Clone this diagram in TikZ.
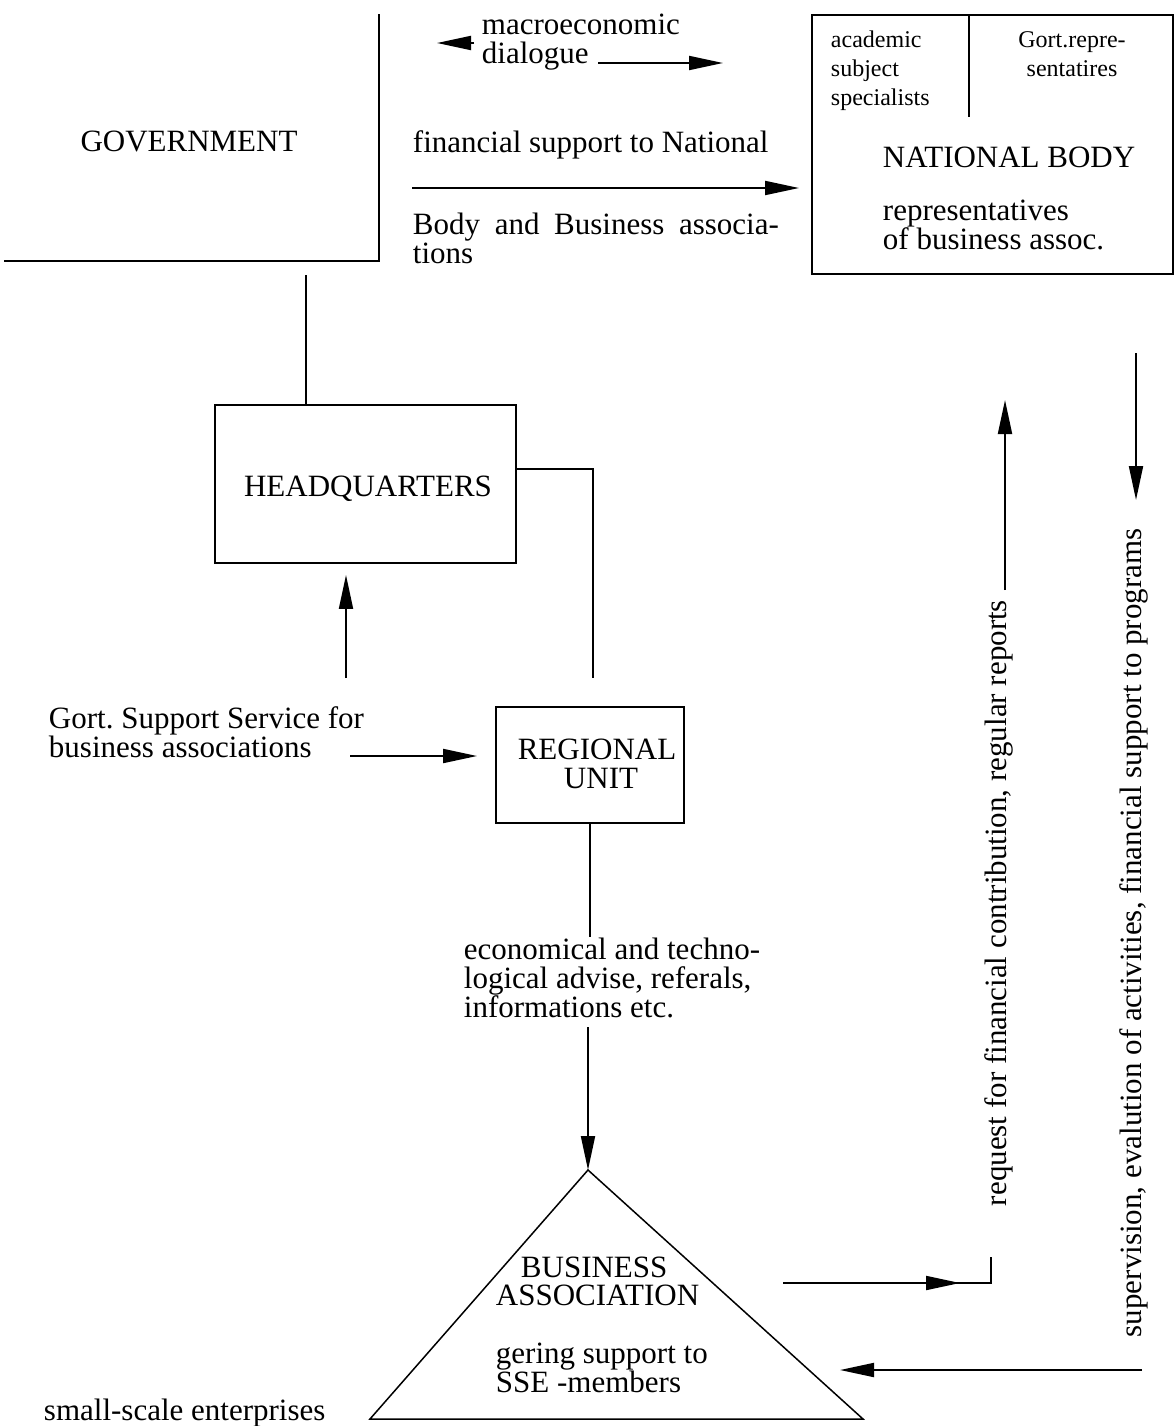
\documentclass[tikz,border=0pt]{standalone}
\usepackage{fontspec}
\setmainfont{Liberation Serif}
\usetikzlibrary{arrows.meta}
\frenchspacing
\begin{document}
\begin{tikzpicture}[x=1pt,y=-1pt,line width=1.9pt,
  tip/.style={-{Triangle[length=34pt,width=14pt]}},
  lbl/.style={font=\fontsize{31}{29}\selectfont,inner sep=0pt,align=left},
  sm/.style={font=\fontsize{24}{29}\selectfont,inner sep=0pt,align=left},
  boxed/.style={draw,inner sep=0pt}]
\useasboundingbox (0,0) rectangle (1175,1426);

% GOVERNMENT (open box: bottom and right sides only)
\node[inner sep=0pt,minimum width=373pt,minimum height=245pt] (govbox) at (191.5,137.5) {};
\draw (govbox.south west) -- (govbox.south east) -- (govbox.north east);
\node[lbl] (govt) at (189,141) {GOVERNMENT};

% top labels and arrows
\node[lbl,anchor=base west] (macro) at (481,64) {macroeconomic\\dialogue};
\coordinate (mlA) at (474,43);
\coordinate (mlB) at (437,43);
\draw[tip] (mlA) -- (mlB);
\coordinate (mrA) at (598,63);
\coordinate (mrB) at (723,63);
\draw[tip] (mrA) -- (mrB);

\node[lbl,anchor=base west] (fin) at (412,152) {financial support to National};
\node[lbl,anchor=base west] (body) at (412,263) {\hbox to 366pt{Body\hfill and\hfill Business\hfill associa-}\\tions};

% NATIONAL BODY
\node[boxed,minimum width=361pt,minimum height=259pt] (nb) at (992.5,144.5) {};
\coordinate (finA) at (412,188);
\draw[tip,shorten >=12pt] (finA) -- (finA -| nb.west);
\coordinate (divtop) at (969,15);
\coordinate (divbot) at (969,117);
\draw (divtop) -- (divbot);
\node[sm,anchor=base west] (acad) at (830,106) {academic\\subject\\specialists};
\node[sm,anchor=base,align=center] (gortrep) at (1072,77) {Gort.repre-\\sentatires};
\node[lbl,anchor=base west] (nbt) at (882,167) {NATIONAL BODY};
\node[lbl,anchor=base west] (reps) at (882,249) {representatives\\of business assoc.};

% HEADQUARTERS
\node[boxed,minimum width=301pt,minimum height=158pt] (hq) at (365.5,484) {};
\node[lbl] (hqt) at (368,489) {HEADQUARTERS};
\coordinate (govfoot) at (306,275);
\draw (govfoot) -- (govfoot |- hq.north);
\coordinate (hqbend) at (593,469);
\coordinate (hqend) at (593,678);
\draw (hqbend -| hq.east) -- (hqbend) -- (hqend);

% Gort. Support Service
\node[lbl,anchor=base west] (gss) at (48,757) {Gort. Support Service for\\business associations};
\coordinate (upA) at (346,678);
\draw[tip,shorten >=11pt] (upA) -- (upA |- hq.south);

% REGIONAL UNIT
\node[boxed,minimum width=188pt,minimum height=116pt] (reg) at (590,765) {};
\node[lbl,align=center,anchor=base] (regt) at (597,788) {REGIONAL\\\hspace*{8pt}UNIT};
\coordinate (gssA) at (350,756);
\draw[tip,shorten >=18pt] (gssA) -- (gssA -| reg.west);

% economical advice
\node[lbl,anchor=base west] (econ) at (463,1017) {economical and techno-\\logical advise, referals,\\informations etc.};
\coordinate (econtop) at (590,937);
\draw (reg.south) -- (econtop);

% BUSINESS ASSOCIATION triangle
\coordinate (apex) at (588,1170);
\coordinate (tl) at (370,1419);
\coordinate (tr) at (863,1419);
\draw[line width=1.5pt] (apex) -- (tl) -- (tr) -- cycle;
\coordinate (econbot) at (588,1027);
\draw[tip] (econbot) -- (apex);
\node[lbl,anchor=base west] (bus) at (520,1277) {BUSINESS};
\node[lbl,anchor=base west] (assoc) at (495,1305) {ASSOCIATION};
\node[lbl,anchor=base west] (gering) at (495,1392) {gering support to\\SSE -members};
\node[lbl,anchor=base west] (sse) at (43,1420) {small-scale enterprises};

% right side flows
\coordinate (rqA) at (783,1283);
\coordinate (rqM) at (960,1283);
\coordinate (rqB) at (991,1283);
\coordinate (rqC) at (991,1257);
\draw[tip] (rqA) -- (rqM);
\draw (rqM) ++(-20,0) -- (rqB) -- (rqC);
\node[lbl,anchor=base west,rotate=90] (req) at (1006,1207) {request for financial contribution, regular reports};
\coordinate (reqA) at (1005,590);
\coordinate (reqB) at (1005,400);
\draw[tip] (reqA) -- (reqB);

\coordinate (supA) at (1136,353);
\coordinate (supB) at (1136,500);
\draw[tip] (supA) -- (supB);
\node[lbl,anchor=base west,rotate=90] (sup) at (1141,1338) {supervision, evalution of activities, financial support to programs};
\coordinate (botA) at (1142,1370);
\coordinate (botB) at (840,1370);
\draw[tip] (botA) -- (botB);
\end{tikzpicture}
\end{document}
